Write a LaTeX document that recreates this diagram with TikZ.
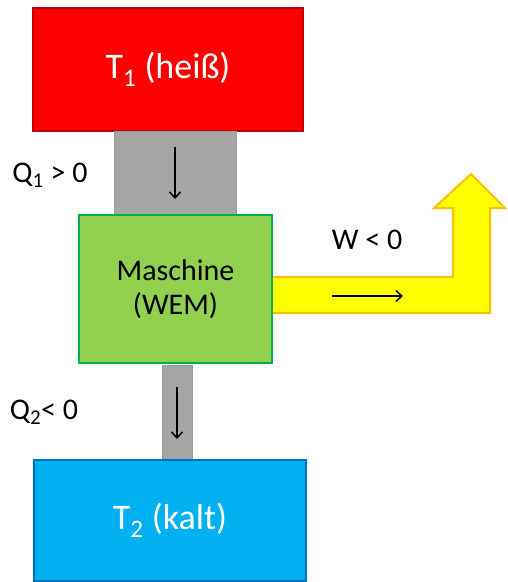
\documentclass[tikz,border=0pt]{standalone}
\usepackage{fontspec}
\setmainfont{Carlito}
\usetikzlibrary{arrows.meta}
\definecolor{hot}{HTML}{FF0000}
\definecolor{hotb}{HTML}{C00000}
\definecolor{grayf}{HTML}{A6A6A6}
\definecolor{grayb}{HTML}{999999}
\definecolor{greenf}{HTML}{92D050}
\definecolor{greenb}{HTML}{00B050}
\definecolor{bluef}{HTML}{00B0F0}
\definecolor{blueb}{HTML}{0070C0}
\definecolor{yellowf}{HTML}{FFFF00}
\definecolor{yellowb}{HTML}{FFC000}
\newcommand{\mysub}[1]{\raisebox{-0.28em}{\fontsize{0.7em}{1em}\selectfont #1}}
\tikzset{
  box/.style={draw, line width=2pt, inner sep=0pt, outer sep=0pt, rectangle},
  conn/.style={fill=grayf, draw=grayb, line width=0.8pt, inner sep=0pt, outer sep=0pt, rectangle},
  flow/.style={line width=1.5pt, -{Straight Barb[length=6pt,width=11pt,line width=1.5pt]}},
  bigtext/.style={font=\fontsize{36}{40}\selectfont, text=white},
  lbl/.style={font=\fontsize{30}{34}\selectfont, text=black, inner sep=0pt}
}
\begin{document}
\begin{tikzpicture}[x=1pt,y=-1pt]
\useasboundingbox (0,0) rectangle (507,582);
% yellow work arrow
\draw[fill=yellowf, draw=yellowb, line width=2pt, line join=miter]
  (268,277) -- (453,277) -- (453,208) -- (434,208) -- (471,174) -- (505,208)
  -- (490,208) -- (490,313) -- (268,313) -- cycle;
\node[box, fill=hot, draw=hotb, minimum width=270pt, minimum height=123pt, bigtext] (hot) at (168,69.5) {T\textsubscript{1} (heiß)};
\node[conn, minimum width=122pt, minimum height=86pt] (c1) at (175,174) {};
\node[box, fill=greenf, draw=greenb, minimum width=193pt, minimum height=148pt, align=center, font=\fontsize{30}{34}\selectfont] (wem) at (175.5,289) {Maschine\\(WEM)};
\node[conn, minimum width=30pt, minimum height=95pt] (c2) at (177,412.5) {};
\node[box, fill=bluef, draw=blueb, minimum width=272pt, minimum height=121pt, bigtext] (cold) at (170,520.5) {T\textsubscript{2} (kalt)};
% flow arrows
\coordinate (a1s) at (175,147); \coordinate (a1e) at (175,199);
\coordinate (a2s) at (177,387); \coordinate (a2e) at (177,439);
\coordinate (a3s) at (332,296); \coordinate (a3e) at (403,296);
\draw[flow] (a1s) -- (a1e);
\draw[flow] (a2s) -- (a2e);
\draw[flow] (a3s) -- (a3e);
% labels
\node[lbl] (q1) at (50,175) {Q\textsubscript{1} > 0};
\node[lbl] (q2) at (44,412) {Q\textsubscript{2}< 0};
\node[lbl] (w) at (367,240) {W < 0};
\end{tikzpicture}
\end{document}
